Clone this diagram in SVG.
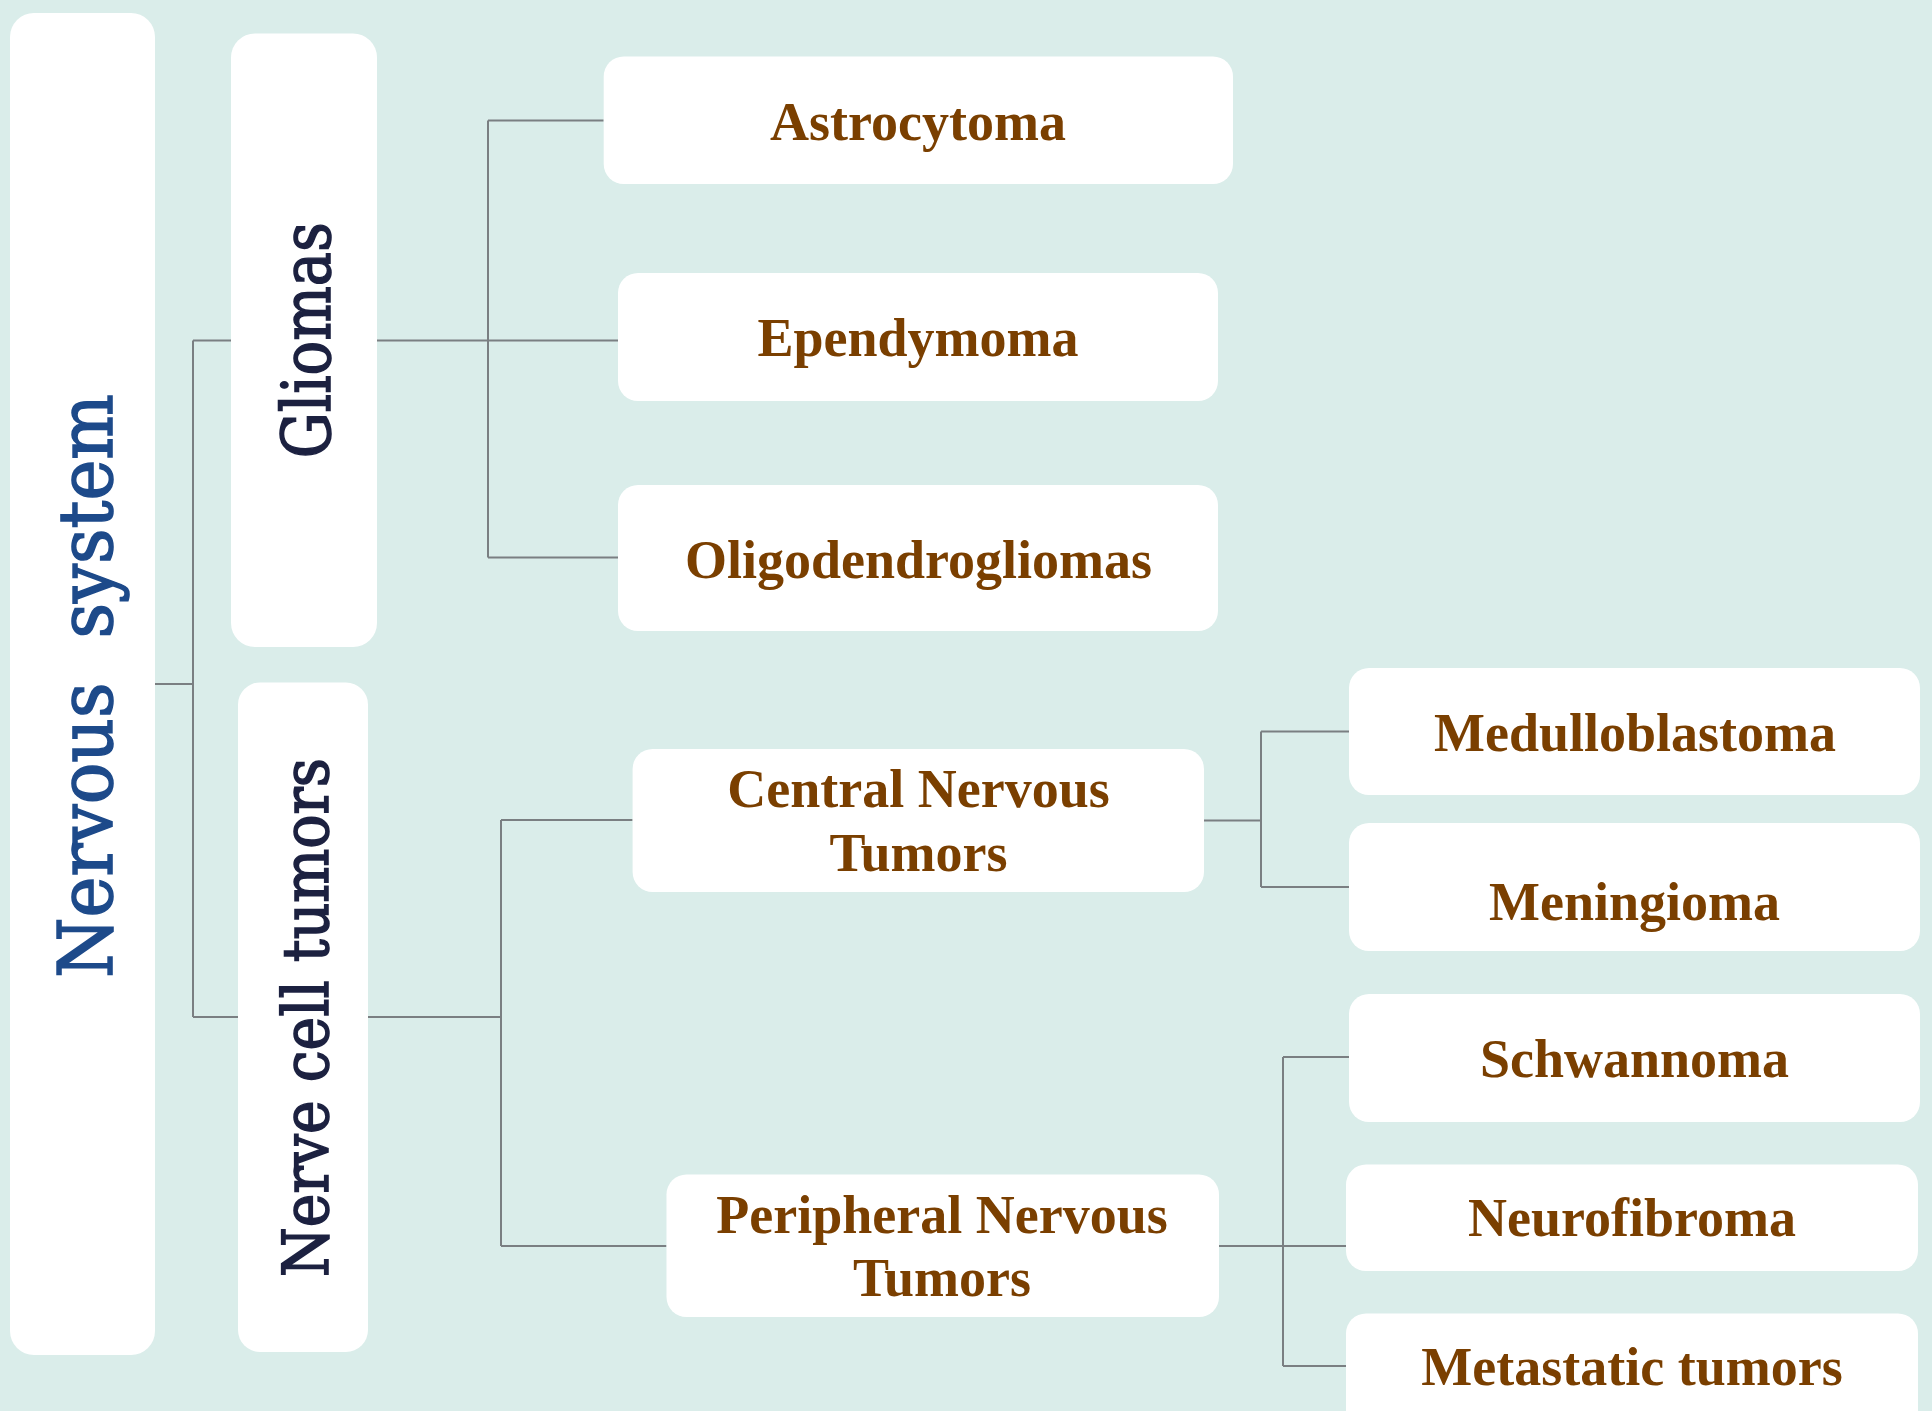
<svg xmlns="http://www.w3.org/2000/svg" width="1932" height="1411" viewBox="0 0 1932 1411">
<style>
.box{fill:#ffffff}
.lbl{font-family:"Liberation Serif","Times New Roman",serif;font-weight:bold;font-size:54px;fill:#7a3f00;text-anchor:middle}
.vert{font-family:"DejaVu Serif",serif;text-anchor:middle;fill:#1c2140;stroke:#1c2140;stroke-width:1.6}
.conn{fill:none;stroke:#7a7f82;stroke-width:2}
</style>
<rect width="1932" height="1411" fill="#daedea"/>
<g id="connectors" class="conn">
<path d="M155,684 H193 M193,340.6 V1017 M193,340.6 H231 M193,1017 H238"/>
<path d="M377,340.6 H488 M488,120.5 V557.6 M488,120.5 H603.7 M488,557.6 H618 M488,340.6 H618"/>
<path d="M368,1017 H501 M501,820 V1246 M501,820 H632.6 M501,1246 H666.5"/>
<path d="M1204,820.5 H1261 M1261,731.5 V887 M1261,731.5 H1349 M1261,887 H1349"/>
<path d="M1219,1246 H1283 M1283,1057 V1366 M1283,1057 H1349 M1283,1246 H1346 M1283,1366 H1346"/>
</g>
<g id="nervous-system">
<rect class="box" x="10" y="13" width="145" height="1342" rx="24"/>
<text class="vert" xml:space="preserve" transform="translate(111.6,686) rotate(-90)" font-size="75" textLength="584" lengthAdjust="spacingAndGlyphs" style="fill:#1d4a8a;stroke:#1d4a8a">Nervous  system</text>
</g>
<g id="gliomas">
<rect class="box" x="231" y="33.5" width="146" height="613.5" rx="24"/>
<text class="vert" transform="translate(329.5,340.3) rotate(-90)" font-size="68" textLength="236" lengthAdjust="spacingAndGlyphs">Gliomas</text>
</g>
<g id="nerve-cell-tumors">
<rect class="box" x="238" y="682.5" width="130" height="669.5" rx="22"/>
<text class="vert" transform="translate(328,1017.5) rotate(-90)" font-size="64" textLength="519" lengthAdjust="spacingAndGlyphs">Nerve cell tumors</text>
</g>
<g id="astrocytoma">
<rect class="box" x="603.7" y="56.5" width="629.3" height="127.5" rx="20"/>
<text class="lbl" x="918" y="140">Astrocytoma</text>
</g>
<g id="ependymoma">
<rect class="box" x="618" y="273" width="600" height="128" rx="20"/>
<text class="lbl" x="918" y="356">Ependymoma</text>
</g>
<g id="oligodendrogliomas">
<rect class="box" x="618" y="485" width="600" height="146" rx="20"/>
<text class="lbl" x="918.5" y="578">Oligodendrogliomas</text>
</g>
<g id="central-nervous-tumors">
<rect class="box" x="632.6" y="749" width="571.4" height="143" rx="20"/>
<text class="lbl" x="918.5" y="807">Central Nervous</text>
<text class="lbl" x="918.5" y="871">Tumors</text>
</g>
<g id="peripheral-nervous-tumors">
<rect class="box" x="666.5" y="1174.5" width="552.5" height="142.5" rx="20"/>
<text class="lbl" x="942" y="1233">Peripheral Nervous</text>
<text class="lbl" x="942" y="1296">Tumors</text>
</g>
<g id="medulloblastoma">
<rect class="box" x="1349" y="668" width="571" height="127" rx="20"/>
<text class="lbl" x="1635" y="750.6">Medulloblastoma</text>
</g>
<g id="meningioma">
<rect class="box" x="1349" y="823" width="571" height="128" rx="20"/>
<text class="lbl" x="1634.5" y="920">Meningioma</text>
</g>
<g id="schwannoma">
<rect class="box" x="1349" y="994" width="571" height="128" rx="20"/>
<text class="lbl" x="1634.5" y="1076.6">Schwannoma</text>
</g>
<g id="neurofibroma">
<rect class="box" x="1346" y="1164.6" width="572" height="106.4" rx="20"/>
<text class="lbl" x="1632" y="1236">Neurofibroma</text>
</g>
<g id="metastatic-tumors">
<rect class="box" x="1346" y="1313.5" width="572" height="130" rx="20"/>
<text class="lbl" x="1632" y="1385">Metastatic tumors</text>
</g>
</svg>
